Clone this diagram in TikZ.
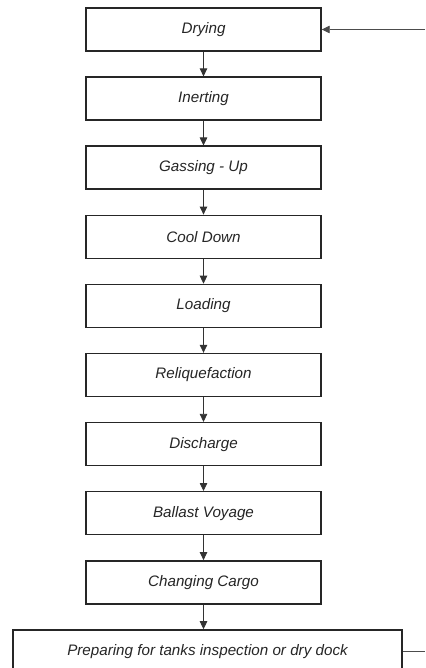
\documentclass[tikz,border=0pt]{standalone}
\usepackage{fontspec}
\setmainfont{Liberation Sans}
\usetikzlibrary{arrows.meta}
\begin{document}
\begin{tikzpicture}[x=1pt,y=1pt,
  stagebox/.style={draw=black!85, line width=1.4pt, fill=white,
    minimum width=235pt, minimum height=43pt, inner sep=0pt,
    font=\itshape\fontsize{15.2}{17}\selectfont, text=black!85},
  flow/.style={draw=black!80, line width=0.8pt,
    -{Triangle[length=8pt,width=7.5pt]}},
  backline/.style={draw=black!70, line width=0.7pt}]
  \useasboundingbox (0,0) rectangle (425,-668);
  \clip (0,0) rectangle (425,-668);

  % process stages, top to bottom
  \node[stagebox] (dry)  at (203.5,-29.5)  {Drying};
  \node[stagebox] (inrt) at (203.5,-98.6)  {Inerting};
  \node[stagebox] (gas)  at (203.5,-167.7) {Gassing - Up};
  \node[stagebox] (cool) at (203.5,-236.8) {Cool Down};
  \node[stagebox] (load) at (203.5,-305.9) {Loading};
  \node[stagebox] (reliq) at (203.5,-375.0) {Reliquefaction};
  \node[stagebox] (disc) at (203.5,-444.1) {Discharge};
  \node[stagebox] (ball) at (203.5,-513.2) {Ballast Voyage};
  \node[stagebox] (chg)  at (203.5,-582.3) {Changing Cargo};
  \node[stagebox, minimum width=389pt] (prep) at (207.5,-651.4)
    {Preparing for tanks inspection or dry dock};

  % sequential links
  \draw[flow] (dry) -- (inrt);
  \draw[flow] (inrt) -- (gas);
  \draw[flow] (gas) -- (cool);
  \draw[flow] (cool) -- (load);
  \draw[flow] (load) -- (reliq);
  \draw[flow] (reliq) -- (disc);
  \draw[flow] (disc) -- (ball);
  \draw[flow] (ball) -- (chg);
  \draw[flow] (chg.south) -- (prep.north -| chg.south);

  % return loop back to drying
  \coordinate (outR) at (425,-651.4);
  \coordinate (inR) at (425,-29.5);
  \draw[backline] (prep.east) -- (outR);
  \draw[flow, draw=black!70, line width=0.7pt] (inR) -- (dry.east);
\end{tikzpicture}
\end{document}
